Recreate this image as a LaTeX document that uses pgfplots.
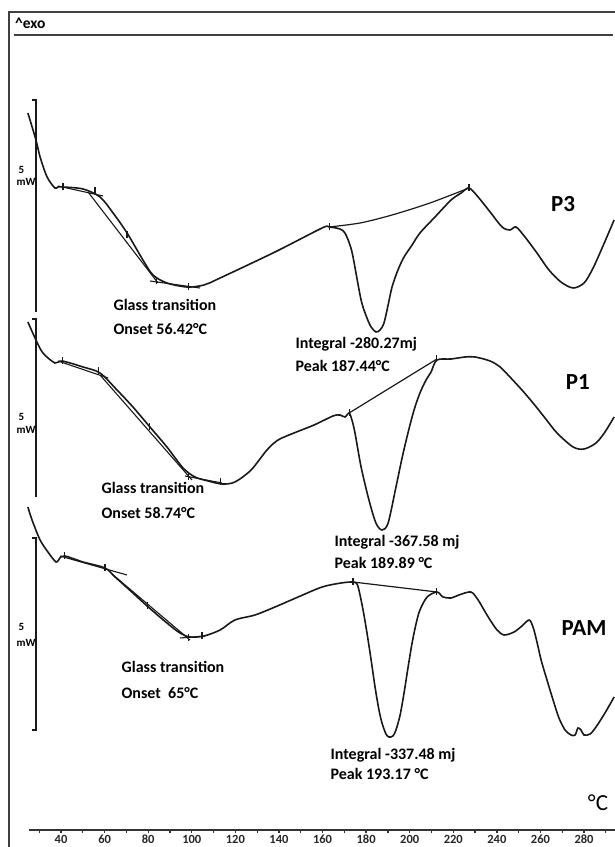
\documentclass[border=0pt]{standalone}
\usepackage{pgfplots}
\pgfplotsset{compat=1.18}
\usepackage{fontspec}
\setmainfont{Carlito}
\newcommand{\ann}{\fontsize{16}{18}\selectfont\bfseries}
\newcommand{\lab}{\fontsize{23}{25}\selectfont\bfseries}
\newcommand{\sml}{\fontsize{11}{12}\selectfont\bfseries}
\begin{document}
\begin{tikzpicture}
\begin{axis}[
  scale only axis, width=586pt, height=818pt,
  xmin=25.3, xmax=294.2, ymin=-830, ymax=-12,
  axis x line=bottom, axis y line=none,
  x axis line style={-, line width=1.6pt, color=black!80},
  xtick={40,60,...,280}, minor xtick={30,50,...,290},
  tick align=outside, major tick length=3pt, minor tick length=3pt,
  tick style={black!80, line width=1.3pt},
  /pgf/number format/assume math mode=true,
  xticklabel style={font=\fontsize{12.5}{14}\selectfont\bfseries, text=black!85, inner sep=2pt},
  clip=false,
  every node/.append style={inner sep=0pt},
]
% frame
\draw[black!75, line width=1.5pt] (axis cs:16.1,-847) -- (axis cs:16.1,-12) -- (axis cs:294.2,-12);
\draw[black!75, line width=2pt] (axis cs:18.4,-35) -- (axis cs:293.3,-35);
\node[anchor=west,font=\fontsize{15.5}{17}\selectfont\bfseries] at (axis cs:17.3,-23) {\textasciicircum exo};

% ---------------- P3 ----------------
\addplot[black!90, line width=1.6pt, smooth, tension=0.5] coordinates {
(24.8,-113) (28.5,-140) (30.4,-157) (33.6,-177) (37.2,-188) (38.6,-187) (40.9,-187)
(50.1,-189) (57.9,-197) (63.9,-213) (70.3,-233) (77.6,-260) (82.2,-275) (88.6,-283)
(97.8,-287) (105.6,-285) (113.0,-278) (138.2,-252) (159.8,-228) (163.0,-227)
(168.0,-229) (170.3,-233) (172.6,-245) (174.0,-257) (177.7,-300) (180.4,-318)
(182.3,-327) (184.5,-332) (186.4,-330) (188.2,-323) (190.1,-305) (191.9,-287)
(194.6,-270) (197.4,-257) (201.1,-245) (204.7,-233) (211.6,-217) (219.0,-200)
(223.6,-193) (227.2,-188) (231.4,-197) (236.9,-212) (242.4,-227) (246.0,-230)
(248.8,-227) (252.9,-237) (258.4,-253) (263.9,-270) (269.4,-282) (275.0,-288)
(280.0,-283) (283.7,-270) (287.3,-253) (293.8,-220)};
\addplot[black!90, line width=1.2pt, smooth] coordinates {(163.0,-227) (177.2,-223) (191.9,-215) (209.3,-203) (227.2,-188)};
\addplot[black!90, line width=1.1pt] coordinates {(38.6,-186) (59.3,-196)};
\addplot[black!90, line width=1.1pt] coordinates {(52.4,-192) (84.5,-283)};
\addplot[black!90, line width=1.1pt] coordinates {(80.8,-281) (103.8,-288)};
\addplot[black!90, only marks, mark=|, mark size=3.5pt, mark options={line width=1.1pt}] coordinates {
(40.9,-187) (55.6,-191) (70.3,-235) (84.0,-281) (98.3,-287) (163.0,-227) (227.2,-188)};
\addplot[black!90, line width=1.9pt] coordinates {(26.7,-100) (28.5,-100) (28.5,-312)};
\node[anchor=west,font=\sml] at (axis cs:18.9,-170) {5};
\node[anchor=west,font=\sml] at (axis cs:18.0,-182) {mW};
\node[anchor=west,font=\ann] at (axis cs:62.5,-305) {Glass transition};
\node[anchor=west,font=\ann] at (axis cs:62.5,-329) {Onset 56.42°C};
\node[anchor=west,font=\ann] at (axis cs:146.0,-344) {Integral -280.27mj};
\node[anchor=west,font=\ann] at (axis cs:146.0,-366) {Peak 187.44°C};
\node[font=\lab] at (axis cs:270.4,-204) {P3};

% ---------------- P1 ----------------
\addplot[black!90, line width=1.6pt, smooth, tension=0.5] coordinates {
(24.8,-322) (28.5,-340) (31.7,-353) (37.2,-363) (40.5,-361) (50.1,-367) (57.9,-373)
(65.7,-390) (73.0,-407) (80.8,-427) (88.6,-447) (96.0,-468) (101.5,-477) (107.5,-481)
(113.9,-484) (119.8,-482) (127.2,-470) (134.5,-450) (139.6,-440) (146.9,-433)
(156.1,-425) (164.8,-416) (168.0,-415) (170.3,-417) (172.2,-413) (173.5,-420)
(174.9,-433) (177.7,-467) (181.3,-500) (184.5,-523) (187.3,-530) (190.1,-523)
(193.7,-487) (196.5,-458) (199.2,-433) (202.0,-410) (204.7,-393) (207.5,-380)
(209.8,-372) (212.5,-360) (219.0,-359) (225.4,-357) (230.0,-357) (236.9,-361)
(241.5,-367) (246.0,-377) (251.5,-390) (256.6,-403) (262.1,-418) (267.6,-433)
(275.0,-447) (280.0,-449) (285.5,-443) (289.6,-432) (293.8,-417)};
\addplot[black!90, line width=1.2pt] coordinates {(172.2,-413) (212.5,-359)};
\addplot[black!90, line width=1.1pt] coordinates {(38.6,-361) (61.6,-378)};
\addplot[black!90, line width=1.1pt] coordinates {(57.9,-375) (100.1,-480)};
\addplot[black!90, line width=1.1pt] coordinates {(96.9,-476) (113.9,-483)};
\addplot[black!90, only marks, mark=|, mark size=3.5pt, mark options={line width=1.1pt}] coordinates {
(40.5,-361) (57.0,-371) (80.8,-427) (98.3,-477) (113.0,-482) (172.2,-413) (212.5,-359)};
\addplot[black!90, line width=1.9pt] coordinates {(26.7,-319) (28.5,-319) (28.5,-497)};
\node[anchor=west,font=\sml] at (axis cs:18.9,-417) {5};
\node[anchor=west,font=\sml] at (axis cs:18.0,-430) {mW};
\node[anchor=west,font=\ann] at (axis cs:57.0,-488) {Glass transition};
\node[anchor=west,font=\ann] at (axis cs:57.0,-513) {Onset 58.74°C};
\node[anchor=west,font=\ann] at (axis cs:163.9,-542) {Integral -367.58 mj};
\node[anchor=west,font=\ann] at (axis cs:163.9,-563) {Peak 189.89 °C};
\node[font=\lab] at (axis cs:277.2,-382) {P1};

% ---------------- PAM ----------------
\addplot[black!90, line width=1.6pt, smooth, tension=0.5] coordinates {
(24.8,-507) (26.7,-520) (30.4,-540) (34.0,-552) (37.7,-562) (39.5,-558) (41.8,-556)
(50.1,-562) (60.2,-568) (64.8,-577) (73.0,-593) (79.5,-606) (88.6,-623) (94.6,-633)
(99.2,-637) (105.6,-636) (113.0,-630) (119.8,-620) (129.0,-615) (138.2,-607)
(148.8,-597) (159.8,-587) (168.5,-583) (174.0,-582) (175.8,-584) (176.7,-590)
(178.6,-610) (180.4,-633) (182.3,-660) (184.1,-687) (185.9,-710) (187.3,-723)
(189.1,-734) (190.5,-737) (192.3,-736) (193.7,-730) (195.6,-715) (197.4,-693)
(199.2,-668) (201.1,-643) (202.9,-624) (204.7,-610) (208.0,-597) (212.5,-592)
(215.3,-597) (219.0,-598) (222.6,-595) (228.1,-592) (231.4,-600) (234.1,-610)
(236.9,-620) (240.1,-630) (243.3,-635) (247.9,-632) (251.5,-626) (254.8,-620)
(256.6,-627) (258.4,-642) (260.3,-660) (263.0,-680) (265.8,-700) (268.5,-718)
(271.3,-730) (274.0,-735) (275.9,-735) (277.2,-728) (278.6,-730) (280.0,-735)
(282.8,-734) (285.5,-727) (289.6,-713) (293.8,-697)};
\addplot[black!90, line width=1.2pt] coordinates {(174.0,-582) (212.5,-592)};
\addplot[black!90, line width=1.1pt] coordinates {(39.5,-556) (70.3,-575)};
\addplot[black!90, line width=1.1pt] coordinates {(63.4,-574) (99.2,-640)};
\addplot[black!90, line width=1.1pt] coordinates {(94.6,-638) (106.1,-636)};
\addplot[black!90, only marks, mark=|, mark size=3.5pt, mark options={line width=1.1pt}] coordinates {
(41.8,-556) (60.2,-568) (79.5,-606) (98.3,-638) (104.7,-636) (174.0,-582) (212.5,-592)};
\addplot[black!90, line width=1.9pt] coordinates {(26.7,-538) (28.5,-538) (28.5,-730) (26.7,-730)};
\node[anchor=west,font=\sml] at (axis cs:18.9,-627) {5};
\node[anchor=west,font=\sml] at (axis cs:18.0,-643) {mW};
\node[anchor=west,font=\ann] at (axis cs:66.2,-667) {Glass transition};
\node[anchor=west,font=\ann] at (axis cs:66.2,-693) {Onset\ \ 65°C};
\node[anchor=west,font=\ann] at (axis cs:162.1,-755) {Integral -337.48 mj};
\node[anchor=west,font=\ann] at (axis cs:162.1,-774) {Peak 193.17 °C};
\node[font=\lab] at (axis cs:280.0,-628) {PAM};

\node[font=\fontsize{23}{25}\selectfont] at (axis cs:286.4,-803) {°C};

\coordinate (bl) at (axis cs:12,-847);
\coordinate (tr) at (axis cs:294.2,0);
\end{axis}
\pgfresetboundingbox
\path (bl) rectangle (tr);
\end{tikzpicture}
\end{document}
